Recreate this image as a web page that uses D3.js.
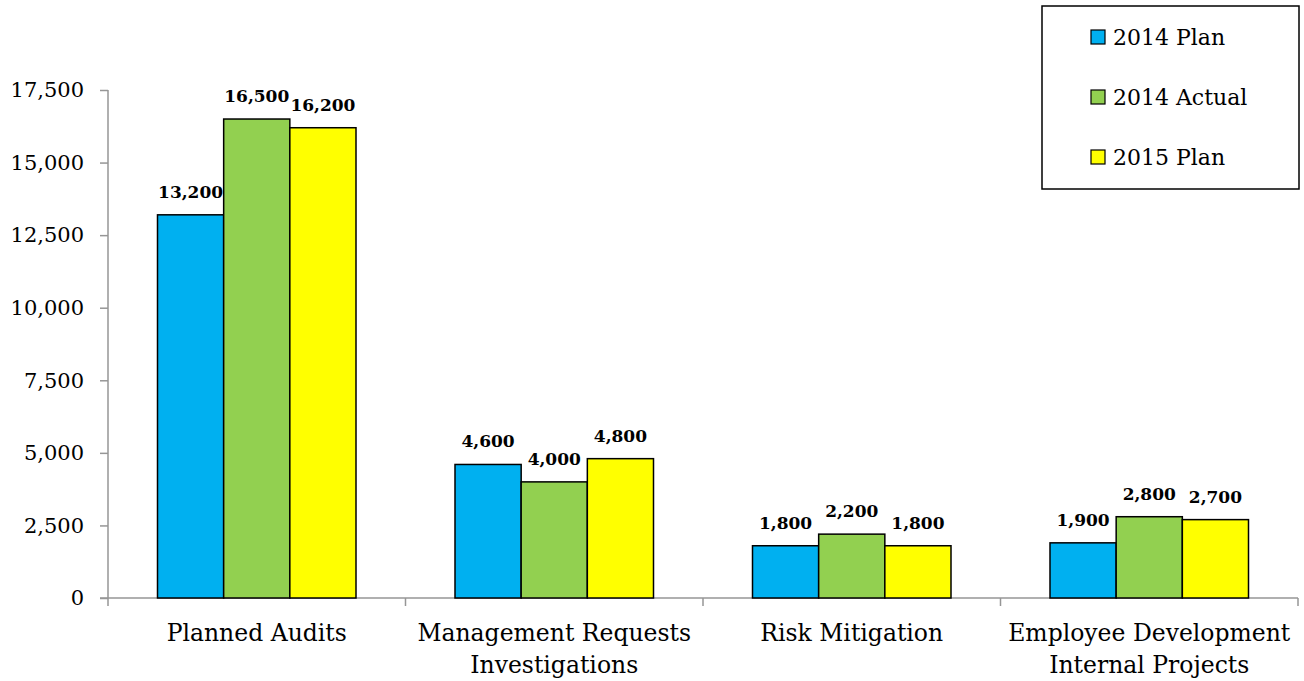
<!DOCTYPE html>
<html>
<head>
<meta charset="utf-8">
<script src="https://cdn.jsdelivr.net/npm/d3@7"></script>
<style>
  body { margin: 0; background: #fff; }
  svg { display: block; font-family: "DejaVu Serif", "Liberation Serif", serif; }
</style>
</head>
<body>
<svg id="chart" width="1304" height="681"></svg>
<script>
// data
const categories = [
  ["Planned Audits"],
  ["Management Requests", "Investigations"],
  ["Risk Mitigation"],
  ["Employee Development", "Internal Projects"]
];
const seriesNames = ["2014 Plan", "2014 Actual", "2015 Plan"];
const plan2014 = [13200, 4600, 1800, 1900];
const actual2014 = [16500, 4000, 2200, 2800];
const plan2015 = [16200, 4800, 1800, 2700];
const yTicks = [0, 2500, 5000, 7500, 10000, 12500, 15000, 17500];
const colors = ["#00b0f0", "#92d050", "#ffff00"];

const values = [plan2014, actual2014, plan2015];

const svg = d3.select("#chart");
const plotLeft = 108, plotRight = 1298, plotTop = 90, plotBottom = 598;

const x0 = d3.scaleBand()
  .domain(d3.range(categories.length))
  .range([plotLeft, plotRight])
  .paddingInner(0)
  .paddingOuter(0);

const x1 = d3.scaleBand()
  .domain(d3.range(seriesNames.length))
  .range([49.5, x0.bandwidth() - 49.5]);

const y = d3.scaleLinear()
  .domain([0, 17500])
  .range([plotBottom, plotTop]);

// y axis
const yAxis = d3.axisLeft(y).tickValues(yTicks).tickSize(8).tickFormat(d3.format(","));
const gy = svg.append("g").attr("transform", `translate(${plotLeft},0)`).call(yAxis);
gy.select(".domain").attr("stroke", "#969696").attr("stroke-width", 1.5).attr("d", `M0,${plotTop}V${plotBottom}`);
gy.selectAll(".tick line").attr("stroke", "#969696").attr("stroke-width", 1.5);
gy.selectAll(".tick text").attr("x", -24).attr("font-size", 21).attr("fill", "#000")
  .attr("font-family", "DejaVu Serif");

// x axis line + ticks at band edges
svg.append("line").attr("x1", plotLeft - 8).attr("x2", plotRight).attr("y1", plotBottom).attr("y2", plotBottom)
  .attr("stroke", "#969696").attr("stroke-width", 1.5);
const edges = d3.range(categories.length + 1).map(i => i === categories.length ? plotRight : x0(i));
svg.selectAll(".xtick").data(edges).enter().append("line")
  .attr("x1", d => d).attr("x2", d => d)
  .attr("y1", plotBottom).attr("y2", plotBottom + 8)
  .attr("stroke", "#969696").attr("stroke-width", 1.5);

// bars
const groups = svg.selectAll(".grp").data(categories).enter().append("g")
  .attr("transform", (d, i) => `translate(${x0(i)},0)`);

groups.each(function(cat, ci) {
  const g = d3.select(this);
  seriesNames.forEach(function(s, si) {
    const v = values[si][ci];
    g.append("rect")
      .attr("x", x1(si))
      .attr("y", y(v))
      .attr("width", x1.bandwidth())
      .attr("height", y(0) - y(v))
      .attr("fill", colors[si])
      .attr("stroke", "#000")
      .attr("stroke-width", 1.5);
    g.append("text")
      .attr("x", x1(si) + x1.bandwidth() / 2)
      .attr("y", y(v) - 17)
      .attr("text-anchor", "middle")
      .attr("font-weight", "bold")
      .attr("font-size", 17)
      .text(d3.format(",")(v));
  });
  cat.forEach(function(line, li) {
    g.append("text")
      .attr("x", x0.bandwidth() / 2)
      .attr("y", 641 + li * 32)
      .attr("text-anchor", "middle")
      .attr("font-size", 23.5)
      .text(line);
  });
});

// legend
svg.append("rect").attr("x", 1042).attr("y", 6).attr("width", 257).attr("height", 183)
  .attr("fill", "#fff").attr("stroke", "#000").attr("stroke-width", 1.5);
const leg = svg.selectAll(".leg").data(seriesNames).enter().append("g")
  .attr("transform", (d, i) => `translate(1091,${37 + i * 60})`);
leg.append("rect").attr("x", 0).attr("y", -7).attr("width", 14).attr("height", 14)
  .attr("fill", (d, i) => colors[i]).attr("stroke", "#000").attr("stroke-width", 1.2);
leg.append("text").attr("x", 22).attr("y", 8).attr("font-size", 22).text(d => d);
</script>
</body>
</html>
